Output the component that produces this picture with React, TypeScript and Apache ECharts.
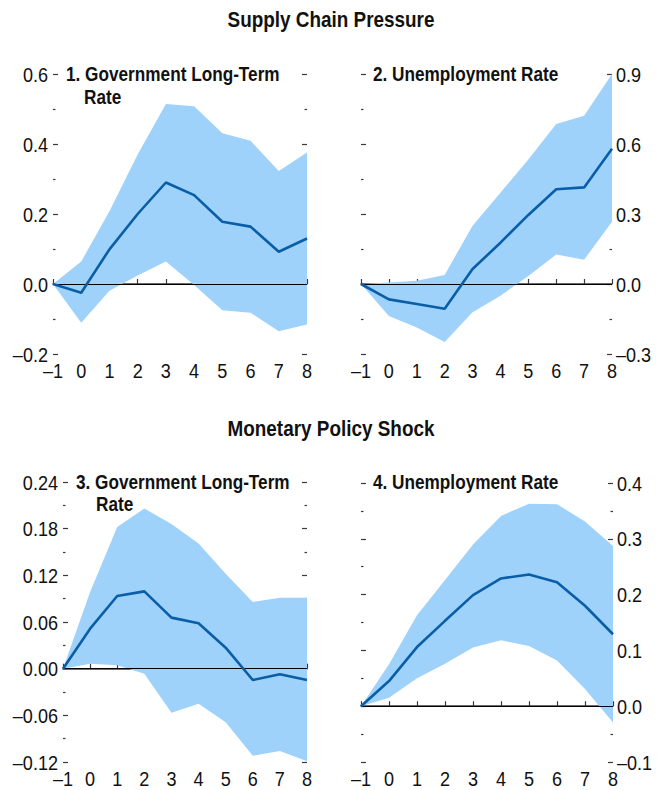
import React, { useEffect, useRef } from "react";
import * as echarts from "echarts";

const horizons = ["-1", "0", "1", "2", "3", "4", "5", "6", "7", "8"];

// Panel 1: Supply chain pressure -> Government long-term rate
const p1Mean = [0, -0.025, 0.099, 0.2, 0.29, 0.254, 0.178, 0.164, 0.092, 0.13];
const p1Upper = [0, 0.064, 0.208, 0.37, 0.514, 0.508, 0.431, 0.409, 0.323, 0.376];
const p1Lower = [0, -0.111, -0.019, 0.024, 0.064, -0.003, -0.075, -0.082, -0.135, -0.116];
const p1Ticks = [-0.2, 0, 0.2, 0.4, 0.6];

// Panel 2: Supply chain pressure -> Unemployment rate
const p2Mean = [0, -0.066, -0.086, -0.106, 0.064, 0.177, 0.296, 0.406, 0.414, 0.58];
const p2Upper = [0, 0.006, 0.014, 0.039, 0.25, 0.391, 0.534, 0.686, 0.721, 0.9];
const p2Lower = [0, -0.137, -0.186, -0.249, -0.121, -0.05, 0.034, 0.126, 0.104, 0.267];
const p2Ticks = [-0.3, 0, 0.3, 0.6, 0.9];

// Panel 3: Monetary policy shock -> Government long-term rate
const p3Mean = [0, 0.0514, 0.0934, 0.0994, 0.0656, 0.0583, 0.027, -0.0146, -0.0073, -0.0146];
const p3Upper = [0, 0.0986, 0.182, 0.206, 0.186, 0.161, 0.122, 0.0857, 0.0913, 0.0913];
const p3Lower = [0, 0.0064, 0.0043, -0.0064, -0.0566, -0.045, -0.069, -0.112, -0.106, -0.119];
const p3Ticks = [-0.12, -0.06, 0, 0.06, 0.12, 0.18, 0.24];

// Panel 4: Monetary policy shock -> Unemployment rate
const p4Mean = [0, 0.045, 0.106, 0.153, 0.199, 0.229, 0.236, 0.222, 0.18, 0.129];
const p4Upper = [0, 0.075, 0.163, 0.226, 0.29, 0.341, 0.363, 0.362, 0.331, 0.287];
const p4Lower = [0, 0.015, 0.05, 0.076, 0.105, 0.118, 0.108, 0.082, 0.031, -0.029];
const p4Ticks = [-0.1, 0, 0.1, 0.2, 0.3, 0.4];

const sectionTitles = ["Supply Chain Pressure", "Monetary Policy Shock"];
const panelTitles = [
  ["1. Government Long-Term", "Rate"],
  ["2. Unemployment Rate"],
  ["3. Government Long-Term", "Rate"],
  ["4. Unemployment Rate"],
];

const panelTicks = [p1Ticks, p2Ticks, p3Ticks, p4Ticks];
const panelDecimals = [1, 1, 2, 1];
const labelSide = ["left", "right", "left", "right"];

const FONT = "'Liberation Sans', Arial, sans-serif";
const NARROW = 0.86;
const BAND = "#9ed2fa";
const LINE = "#0a5ea8";
const AXIS = "#3a3a3a";
const TEXT = "#111";

const fmt = (v: number, d: number) => {
  if (Math.abs(v) < 1e-9) return (0).toFixed(d);
  const s = Math.abs(v).toFixed(d);
  return v < 0 ? "\u2013" + s : s;
};

const textEl = (
  x: number,
  y: number,
  text: string,
  font: string,
  align: string,
  vAlign: string
) => ({
  type: "text",
  x,
  y,
  scaleX: NARROW,
  scaleY: 1,
  z: 10,
  silent: true,
  style: {
    text,
    fill: TEXT,
    font,
    textAlign: align,
    textVerticalAlign: vAlign,
    align,
    verticalAlign: vAlign,
  },
});

export default function App() {
  const ref = useRef<HTMLDivElement>(null);
  useEffect(() => {
    if (!ref.current) return;
    const chart = echarts.init(ref.current, undefined, { renderer: "svg" });

    const grids = [
      { left: 53, top: 74, width: 254, height: 280 },
      { left: 361, top: 74, width: 251, height: 280 },
      { left: 63, top: 482, width: 244, height: 280 },
      { left: 361, top: 483, width: 252, height: 279 },
    ];
    const panels = [
      [p1Mean, p1Upper, p1Lower],
      [p2Mean, p2Upper, p2Lower],
      [p3Mean, p3Upper, p3Lower],
      [p4Mean, p4Upper, p4Lower],
    ];

    const xAxis: any[] = grids.map((_, i) => ({
      type: "category",
      gridIndex: i,
      data: horizons,
      boundaryGap: false,
      axisLine: { show: true, lineStyle: { color: AXIS, width: 1.5 } },
      axisTick: { show: true, inside: true, length: 5, lineStyle: { color: AXIS, width: 1.2 } },
      axisLabel: { show: false },
      splitLine: { show: false },
    }));

    const yAxis: any[] = [];
    panelTicks.forEach((ticks, i) => {
      ["left", "right"].forEach((pos) => {
        yAxis.push({
          type: "value",
          gridIndex: i,
          position: pos,
          min: ticks[0],
          max: ticks[ticks.length - 1],
          interval: ticks[1] - ticks[0],
          axisLine: { show: false },
          axisTick: { show: true, inside: true, length: 5, lineStyle: { color: AXIS, width: 1.2 } },
          minorTick: { show: true, splitNumber: 2, length: 2.5, lineStyle: { color: AXIS, width: 1.2 } },
          minorSplitLine: { show: false },
          splitLine: { show: false },
          axisLabel: { show: false },
        });
      });
    });

    const series: any[] = [];
    panels.forEach(([mean, upper, lower], i) => {
      const yIdx = i * 2;
      series.push({
        type: "line",
        xAxisIndex: i,
        yAxisIndex: yIdx,
        data: lower,
        stack: "band" + i,
        stackStrategy: "all",
        showSymbol: false,
        symbol: "none",
        lineStyle: { width: 0, opacity: 0 },
        silent: true,
        z: 1,
      });
      series.push({
        type: "line",
        xAxisIndex: i,
        yAxisIndex: yIdx,
        data: upper.map((u, k) => u - lower[k]),
        stack: "band" + i,
        stackStrategy: "all",
        showSymbol: false,
        symbol: "none",
        lineStyle: { width: 0, opacity: 0 },
        areaStyle: { color: BAND, opacity: 1 },
        silent: true,
        z: 1,
        markLine: {
          silent: true,
          symbol: ["none", "none"],
          label: { show: false },
          lineStyle: { color: "#000", width: 1, type: "solid" },
          data: [{ yAxis: 0 }],
          z: 2,
        },
      });
      series.push({
        type: "line",
        xAxisIndex: i,
        yAxisIndex: yIdx,
        data: mean,
        showSymbol: false,
        symbol: "none",
        lineStyle: { color: LINE, width: 2.6 },
        z: 3,
      });
    });

    chart.setOption({
      animation: false,
      backgroundColor: "#fff",
      grid: grids,
      xAxis,
      yAxis,
      series,
    });

    // Text: titles and tick labels placed through the axes' own scales
    const graphic: any[] = [];
    const tickFont = `21px ${FONT}`;
    panelTicks.forEach((ticks, i) => {
      const finder = { xAxisIndex: i, yAxisIndex: i * 2 };
      const last = horizons.length - 1;
      ticks.forEach((v) => {
        if (labelSide[i] === "left") {
          const p = chart.convertToPixel(finder, [0, v]) as number[];
          graphic.push(textEl(p[0] - 5, p[1], fmt(v, panelDecimals[i]), tickFont, "right", "middle"));
        } else {
          const p = chart.convertToPixel(finder, [last, v]) as number[];
          graphic.push(textEl(p[0] + 4, p[1], fmt(v, panelDecimals[i]), tickFont, "left", "middle"));
        }
      });
      horizons.forEach((h, k) => {
        const p = chart.convertToPixel(finder, [k, ticks[0]]) as number[];
        graphic.push(textEl(p[0], p[1] + 16.5, h.replace("-", "\u2013"), tickFont, "center", "middle"));
      });
    });

    const titlePos = [
      [[66, 74], [84, 97]],
      [[373, 74]],
      [[76, 482], [96, 504]],
      [[373, 482]],
    ];
    panelTitles.forEach((lines, i) => {
      lines.forEach((t, j) => {
        graphic.push(
          textEl(titlePos[i][j][0], titlePos[i][j][1], t, `bold 20px ${FONT}`, "left", "middle")
        );
      });
    });
    const secY = [19, 428];
    sectionTitles.forEach((t, i) => {
      graphic.push(textEl(331, secY[i], t, `bold 22px ${FONT}`, "center", "middle"));
    });

    chart.setOption({ graphic });
    return () => chart.dispose();
  }, []);
  return (
    <div
      ref={ref}
      style={{ position: "fixed", left: 0, top: 0, width: 659, height: 790 }}
    />
  );
}
